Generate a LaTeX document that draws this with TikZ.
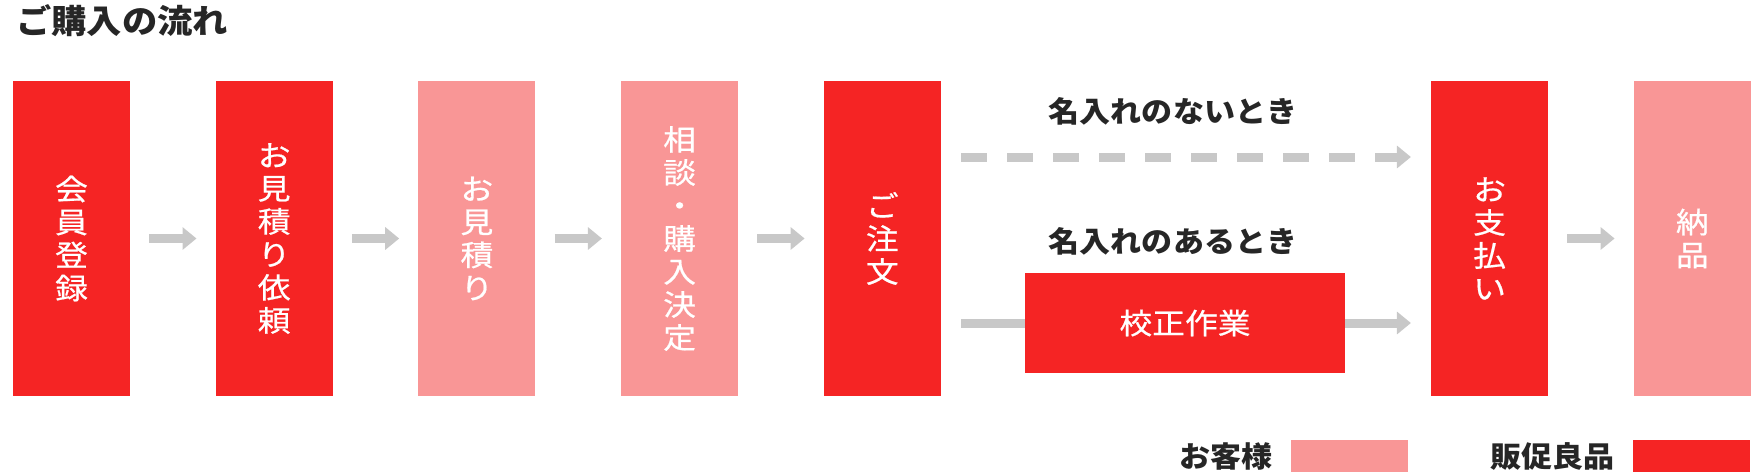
\documentclass[tikz,border=0pt]{standalone}
\usepackage{fontspec}
\setmainfont{Noto Sans CJK JP}[FakeStretch=1.07]
\newfontfamily\boxfont{Noto Sans CJK JP}[FakeStretch=1.13, FakeBold=0.6]
\usepackage{xcolor}
\usetikzlibrary{positioning, arrows.meta}

\definecolor{hanred}{RGB}{245,36,36}
\definecolor{kyakupink}{RGB}{249,150,150}
\definecolor{arrgray}{RGB}{200,200,200}
\definecolor{inktext}{RGB}{38,38,38}

\begin{document}
\begin{tikzpicture}[
  x=1pt, y=-1pt,
  stage/.style={
    rectangle, fill=hanred, inner sep=0pt,
    minimum height=315pt, minimum width=117pt,
    align=center, text=white,
    font=\boxfont\fontsize{29}{33}\selectfont
  },
  stagelite/.style={stage, fill=kyakupink},
  arr/.style={-{Triangle[length=14pt, width=22pt]}, draw=arrgray, line width=9pt},
  dasharr/.style={arr, dash pattern=on 26pt off 20pt},
  lbl/.style={font=\bfseries\fontsize{29}{32}\selectfont, text=inktext},
  key/.style={rectangle, inner sep=0pt, minimum width=117pt, minimum height=32pt}
]
\useasboundingbox (0,0) rectangle (1762,474);

\node[anchor=west, inner sep=0pt, font=\bfseries\fontsize{33}{36}\selectfont, text=inktext] (title) at (16,21) {ご購入の流れ};

% flow boxes
\node[stage] (member) at (71.5,238.5) {会\\員\\登\\録};
\node[stage, right=85.3pt of member] (request) {お\\見\\積\\り\\依\\頼};
\node[stagelite, right=85.3pt of request] (estimate) {お\\見\\積\\り};
\node[stagelite, right=85.3pt of estimate] (decide) {相\\談\\・\\購\\入\\決\\定};
\node[stage, right=85.3pt of decide] (order) {ご\\注\\文};
\node[stage, right=489.9pt of order] (pay) {お\\支\\払\\い};
\node[stagelite, right=85.3pt of pay] (deliver) {納\\品};

\node[stage, minimum width=320pt, minimum height=100pt] (proof) at (1185,323) {校正作業};

\node[lbl] (noname) at (1173,111) {名入れのないとき};
\node[lbl] (withname) at (1173,241) {名入れのあるとき};

% connectors
\draw[arr] ([xshift=19pt]member.east) -- ([xshift=-19pt]request.west);
\draw[arr] ([xshift=19pt]request.east) -- ([xshift=-19pt]estimate.west);
\draw[arr] ([xshift=19pt]estimate.east) -- ([xshift=-19pt]decide.west);
\draw[arr] ([xshift=19pt]decide.east) -- ([xshift=-19pt]order.west);
\draw[arr] ([xshift=19pt]pay.east) -- ([xshift=-19pt]deliver.west);

\draw[dasharr] ([xshift=20pt, yshift=81.5pt]order.east) -- ([xshift=-20pt, yshift=81.5pt]pay.west);
\draw[draw=arrgray, line width=9pt] ([xshift=20pt, yshift=-84.5pt]order.east) -- (proof.west);
\draw[arr] (proof.east) -- ([xshift=-20pt, yshift=-84.5pt]pay.west);

% legend
\node[key, fill=hanred] (redkey) at (1691.5,456) {};
\node[key, fill=kyakupink] (pinkkey) at (1349.5,456) {};
\node[lbl, left=15pt of redkey] (redtext) {販促良品};
\node[lbl, left=15pt of pinkkey] (pinktext) {お客様};
\end{tikzpicture}
\end{document}
